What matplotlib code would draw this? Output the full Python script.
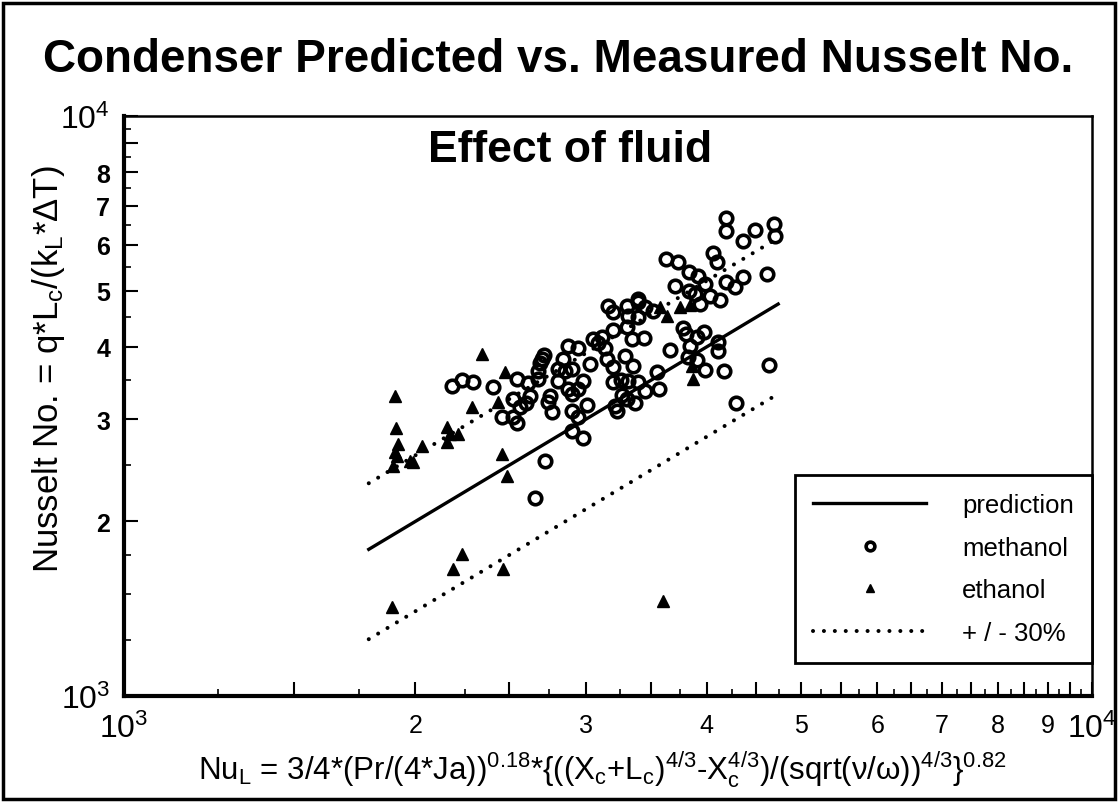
import matplotlib.pyplot as plt
from matplotlib.patches import Rectangle
import numpy as np

plt.rcParams['font.family'] = ['Liberation Sans', 'DejaVu Sans']
plt.rcParams['mathtext.fontset'] = 'custom'
plt.rcParams['mathtext.rm'] = 'Liberation Sans'
plt.rcParams['mathtext.it'] = 'Liberation Sans:italic'
plt.rcParams['mathtext.bf'] = 'Liberation Sans:bold'

# predicted (x) vs measured (y) Nusselt numbers
methanol_x = [2182, 2235, 2294, 2405, 2458, 2522, 2546, 2546, 2522, 2565, 2626, 2601,
              2614, 2677, 2677, 2703, 2716, 2690, 2755, 2742, 2768, 2841, 2808, 2855,
              2903, 2808, 2875, 2945, 2875, 2903, 2945, 2981, 2903, 2945, 3009, 2903,
              2981, 3031, 3053, 3119, 3089, 3141, 3155, 3200, 3294, 3357, 3200, 3310,
              3163, 3200, 3310, 3318, 3397, 3454, 3397, 3349, 3446, 3200, 3262, 3318,
              3397, 3454, 3270, 3310, 3216, 3231, 3373, 2722, 2658, 3520, 3780, 3807,
              3973, 3908, 3843, 4108, 4108, 3664, 3825, 3908, 3983, 4167, 4638, 3554,
              3570, 4287, 4187, 4187, 4486, 4693, 4704, 4360, 4060, 4099, 3630, 3735,
              3834, 3917, 3983, 4616, 4187, 4277, 4360, 3709, 3834, 3890, 4031, 4128,
              3936, 3397]
methanol_y = [3424, 3506, 3478, 3410, 3027, 3027, 2956, 3520, 3252, 3150, 3291, 3200,
              3465, 3520, 3634, 3811, 3873, 3751, 3291, 3213, 3088, 3811, 3663, 3634,
              3663, 3492, 4013, 3982, 3383, 3317, 3383, 3492, 3100, 3027, 3175, 2863,
              2785, 3736, 4126, 4159, 4061, 3982, 3811, 3692, 3857, 3706, 4277, 4328,
              4704, 4593, 4704, 4521, 4780, 4685, 4503, 4126, 4142, 3478, 3506, 3492,
              3478, 3356, 3304, 3252, 3163, 3100, 3200, 2542, 2195, 4612, 4311, 4209,
              4243, 4159, 4013, 4077, 3927, 3950, 3842, 3796, 3648, 3634, 3721, 3620,
              3383, 3200, 6669, 6336, 6361, 6513, 6210, 6089, 5806, 5602, 5669, 5602,
              5385, 5300, 5133, 5342, 5174, 5072, 5278, 5092, 4993, 4934, 4895, 4818,
              4742, 4837]

ethanol_x = [1892, 1905, 1910, 1919, 1905, 1914, 1897, 1975, 1989, 2032, 2157, 2172,
             2213, 2157, 2188, 2235, 2288, 2343, 2435, 2475, 2458, 2487, 2464, 3578,
             3753, 3843, 3639, 3862, 3871, 3604]
ethanol_y = [1424, 3290, 2898, 2720, 2634, 2593, 2492, 2542, 2532, 2698, 2910, 2829,
             2829, 2741, 1656, 1757, 3150, 3889, 3213, 3620, 2614, 2395, 1656, 4686,
             4686, 4723, 4520, 3707, 3520, 1458]

pred_x = np.array([1790, 4740])
band = 0.30

fig = plt.figure(figsize=(11.19, 8.03), dpi=100)
ax = fig.add_axes([0.1108, 0.132, 0.8651, 0.7223])
ax.set_xscale('log')
ax.set_yscale('log')

ax.plot(pred_x, pred_x, color='black', lw=2.4, label='prediction')
ax.plot(methanol_x, methanol_y, 'o', mfc='none', mec='black', ms=9, mew=2.6,
        label='methanol')
ax.plot(ethanol_x, ethanol_y, '^', color='black', ms=8.5, label='ethanol')
dots = (0, (0.01, 2.7))
ax.plot(pred_x, pred_x * (1 + band), color='black', lw=2.9, ls=dots,
        dash_capstyle='round', label='+ / - 30%')
ax.plot(pred_x, pred_x * (1 - band), color='black', lw=2.9, ls=dots,
        dash_capstyle='round')

ax.set_xlim(1e3, 1e4)
ax.set_ylim(1e3, 1e4)

# ticks
xmaj = np.arange(1000, 10001, 500)
xlab = []
for v in xmaj:
    if v == 1000:
        xlab.append(r'$\mathregular{10^3}$')
    elif v == 10000:
        xlab.append(r'$\mathregular{10^4}$')
    elif v % 1000 == 0:
        xlab.append(str(v // 1000))
    else:
        xlab.append('')
ax.set_xticks(xmaj, labels=xlab)
ax.set_xticks(np.arange(1250, 10000, 500), minor=True)

ymaj = np.arange(1000, 10001, 1000)
ylab = []
for v in ymaj:
    if v == 1000:
        ylab.append(r'$\mathregular{10^3}$')
    elif v == 10000:
        ylab.append(r'$\mathregular{10^4}$')
    elif v == 9000:
        ylab.append('')
    else:
        ylab.append(str(v // 1000))
ax.set_yticks(ymaj, labels=ylab)
ax.set_yticks([1250, 1500, 1750] + list(np.arange(2500, 10000, 1000)), minor=True)
ax.yaxis.set_minor_formatter(plt.NullFormatter())
ax.xaxis.set_minor_formatter(plt.NullFormatter())

ax.tick_params(which='major', direction='in', length=10, width=1.5)
ax.tick_params(which='minor', direction='in', length=5, width=1.2)
ax.tick_params(axis='x', which='major', pad=12)
ax.tick_params(axis='y', which='major', pad=10)
for t in ax.get_xticklabels():
    t.set_fontsize(23 if '10' in t.get_text() else 18)
for t in ax.get_yticklabels():
    if '10' in t.get_text():
        t.set_fontsize(23)
    else:
        t.set_fontsize(18)
        t.set_fontweight('bold')

for s in ['left', 'bottom']:
    ax.spines[s].set_linewidth(3)
for s in ['top', 'right']:
    ax.spines[s].set_linewidth(1.8)

fig.text(0.499, 0.925, 'Condenser Predicted vs. Measured Nusselt No.',
         ha='center', va='center', fontsize=33, fontweight='bold')
ax.text(0.461, 0.943, 'Effect of fluid', transform=ax.transAxes,
        ha='center', va='center', fontsize=32, fontweight='bold')
fig.text(0.043, 0.54, 'Nusselt No. = q*L$_\\mathregular{c}$/(k$_\\mathregular{L}$*ΔT)',
         rotation=90, ha='center', va='center', fontsize=25)
fig.text(0.538, 0.041,
         'Nu$_\\mathregular{L}$ = 3/4*(Pr/(4*Ja))$^\\mathregular{0.18}$*'
         '{((X$_\\mathregular{c}$+L$_\\mathregular{c}$)$^\\mathregular{4/3}$'
         '-X$_\\mathregular{c}^\\mathregular{4/3}$)/(sqrt(ν/ω))$^\\mathregular{4/3}$'
         '}$^\\mathregular{0.82}$',
         ha='center', va='center', fontsize=22.5)

leg = ax.legend(loc='lower right', bbox_to_anchor=(1.0, 0.057), borderaxespad=0,
                fontsize=18.5, fancybox=False, edgecolor='black', framealpha=1,
                handlelength=4.4, handletextpad=1.4, labelspacing=0.72,
                borderpad=0.7, markerscale=0.7)
leg.get_frame().set_linewidth(2)

fig.patches.append(Rectangle((0.003, 0.004), 0.993, 0.991, transform=fig.transFigure,
                             fill=False, lw=2.5, ec='black'))

fig.savefig('out.png', dpi=100)
